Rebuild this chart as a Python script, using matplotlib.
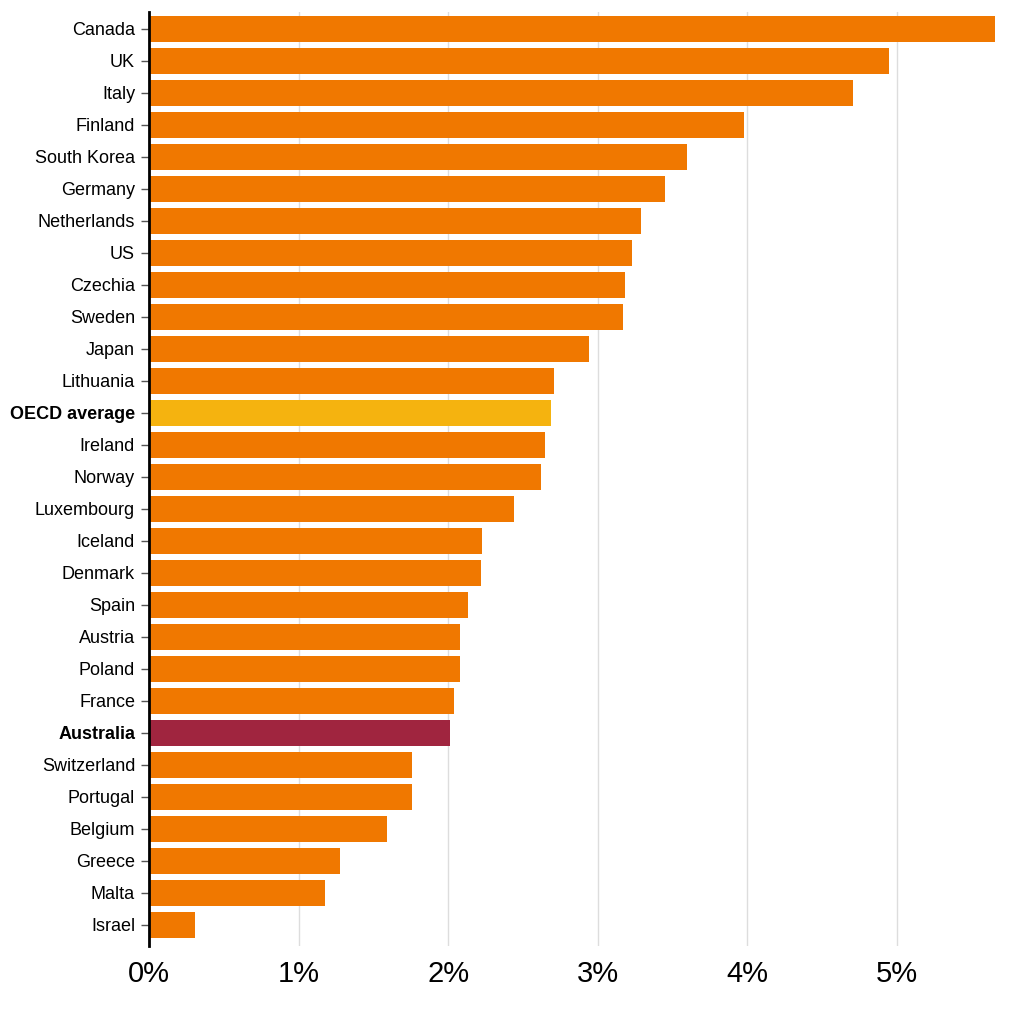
import numpy as np
import matplotlib
matplotlib.use("Agg")
from matplotlib import pyplot as plt

plt.rcParams['font.family'] = ['Liberation Sans', 'DejaVu Sans']

# countries from top to bottom, values in percent
countries = ["Canada", "UK", "Italy", "Finland", "South Korea", "Germany", "Netherlands",
             "US", "Czechia", "Sweden", "Japan", "Lithuania", "OECD average", "Ireland",
             "Norway", "Luxembourg", "Iceland", "Denmark", "Spain", "Austria", "Poland",
             "France", "Australia", "Switzerland", "Portugal", "Belgium", "Greece",
             "Malta", "Israel"]
values = [5.66, 4.95, 4.71, 3.98, 3.60, 3.45, 3.29,
          3.23, 3.18, 3.17, 2.94, 2.71, 2.69, 2.65,
          2.62, 2.44, 2.23, 2.22, 2.13, 2.08, 2.08,
          2.04, 2.01, 1.76, 1.76, 1.59, 1.28,
          1.18, 0.31]
x_ticks = [0, 1, 2, 3, 4, 5]

orange = "#F07800"
highlight = {"OECD average": "#F5B30F", "Australia": "#A0253F"}
colors = [highlight.get(c, orange) for c in countries]

fig = plt.figure(figsize=(10.24, 10.24), dpi=100)
ax = fig.add_axes([0.1455, 0.0762, 0.828, 0.9121])

y = np.arange(len(countries))
ax.barh(y, values, height=0.82, color=colors, zorder=2)

ax.set_ylim(len(countries) - 1 + 0.66, -0.53)
ax.set_xlim(0, 5.67)
ax.set_yticks(y)
ax.set_yticklabels(countries, fontsize=13)
for lab in ax.get_yticklabels():
    if lab.get_text() in highlight:
        lab.set_fontweight("bold")

ax.set_xticks(x_ticks)
ax.set_xticklabels([f"{t}%" for t in x_ticks], fontsize=21)
ax.tick_params(axis="x", length=0, pad=10)
ax.tick_params(axis="y", length=6, width=1, color="#555555", pad=4)

ax.grid(axis="x", color="#dddddd", linewidth=1, zorder=0)
for s in ["top", "right", "bottom"]:
    ax.spines[s].set_visible(False)
ax.spines["left"].set_linewidth(2)
ax.spines["left"].set_zorder(3)

plt.savefig("out.png", dpi=100)
